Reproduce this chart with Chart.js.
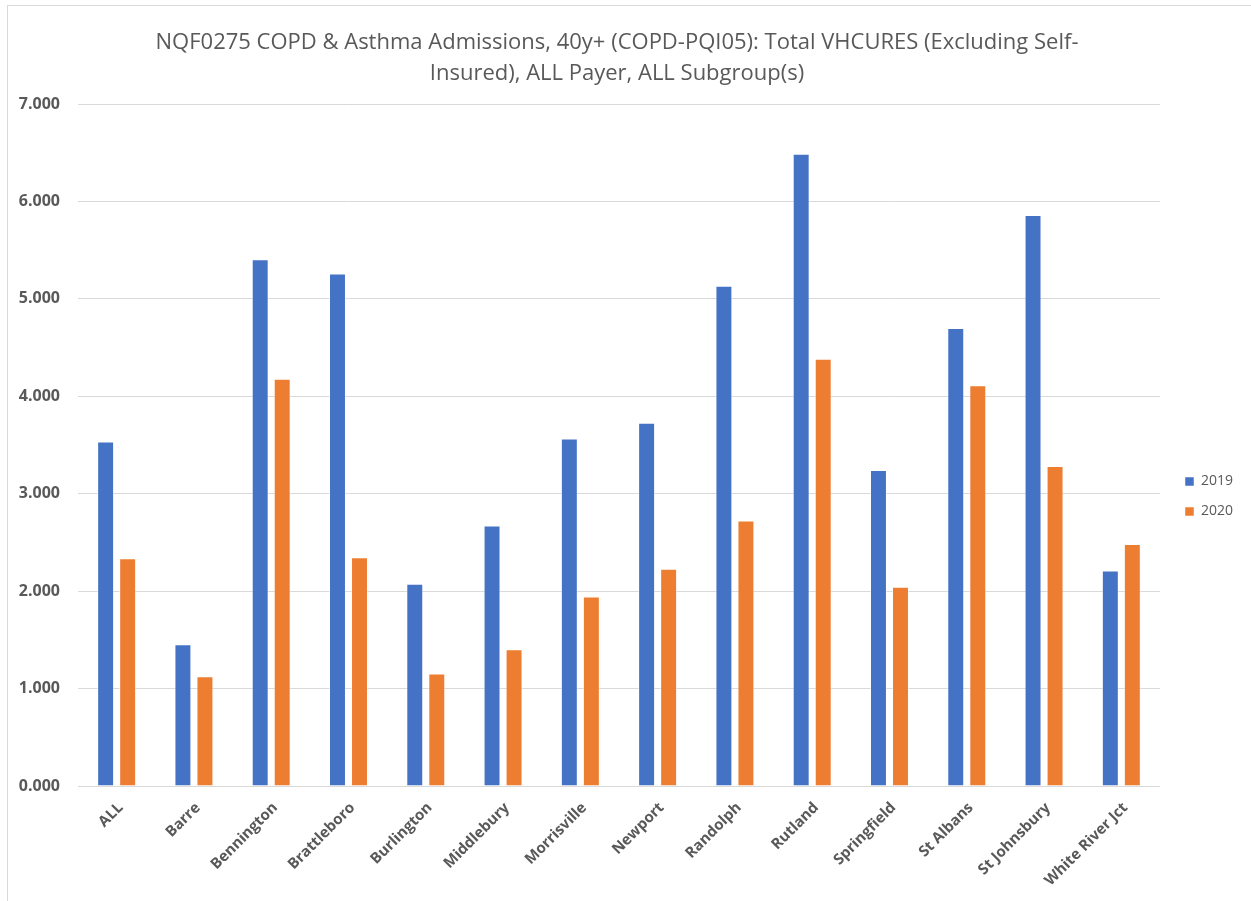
<!DOCTYPE html>
<html>
<head>
<meta charset="utf-8">
<script src="https://cdn.jsdelivr.net/npm/chart.js@4/dist/chart.umd.min.js"></script>
<style>
    html, body { margin: 0; padding: 0; background: #fff; overflow: hidden; }
    #frame {
        position: absolute; left: 7px; top: 5px;
        width: 1300px; height: 1000px;
        border: 1px solid #d9d9d9;
    }
    #wrap { position: absolute; left: 0; top: 0; width: 1251px; height: 901px; }
</style>
</head>
<body>
<div id="frame"></div>
<div id="wrap"><canvas id="copdChart"></canvas></div>
<script>
const titleLines = [
    'NQF0275 COPD & Asthma Admissions, 40y+ (COPD-PQI05): Total VHCURES (Excluding Self-',
    'Insured), ALL Payer, ALL Subgroup(s)'
];

const regions = [
    'ALL', 'Barre', 'Bennington', 'Brattleboro', 'Burlington', 'Middlebury', 'Morrisville',
    'Newport', 'Randolph', 'Rutland', 'Springfield', 'St Albans', 'St Johnsbury', 'White River Jct'
];

const rate2019 = [3.535, 1.455, 5.407, 5.26, 2.077, 2.674, 3.566, 3.729, 5.136, 6.489, 3.244, 4.701, 5.86, 2.213];
const rate2020 = [2.338, 1.126, 4.179, 2.348, 1.155, 1.403, 1.946, 2.231, 2.724, 4.385, 2.045, 4.113, 3.285, 2.484];

const yTicks = [0, 1, 2, 3, 4, 5, 6, 7];

const textColor = '#595959';
const gridColor = '#d9d9d9';

// nudge the legend to where the reference puts it
const legendNudge = {
    id: 'legendNudge',
    afterLayout(chart) {
        const lg = chart.legend;
        if (!lg) return;
        lg.left += 9; lg.right += 9;
        lg.top += 46; lg.bottom += 46;
    }
};

const ctx = document.getElementById('copdChart').getContext('2d');

new Chart(ctx, {
    type: 'bar',
    data: {
        labels: regions,
        datasets: [
            {
                label: '2019',
                data: rate2019,
                backgroundColor: '#4472C4',
                borderColor: 'rgba(255,255,255,0.5)',
                borderWidth: 1,
                categoryPercentage: 0.57,
                barPercentage: 0.77
            },
            {
                label: '2020',
                data: rate2020,
                backgroundColor: '#ED7D31',
                borderColor: 'rgba(255,255,255,0.5)',
                borderWidth: 1,
                categoryPercentage: 0.57,
                barPercentage: 0.77
            }
        ]
    },
    options: {
        responsive: true,
        maintainAspectRatio: false,
        animation: false,
        layout: {
            padding: { left: 0, right: 17, top: 0, bottom: 0 }
        },
        plugins: {
            title: {
                display: true,
                text: titleLines,
                color: textColor,
                font: { family: 'Open Sans', size: 22, weight: 'normal', lineHeight: 1.41 },
                padding: { top: 27, bottom: 15 }
            },
            legend: {
                display: true,
                position: 'right',
                labels: {
                    color: textColor,
                    font: { family: 'Open Sans', size: 14 },
                    boxWidth: 9,
                    boxHeight: 9,
                    padding: 16
                }
            },
            tooltip: { enabled: false }
        },
        scales: {
            y: {
                min: 0,
                max: 7,
                afterBuildTicks: (scale) => {
                    scale.ticks = yTicks.map(v => ({ value: v }));
                },
                afterFit: (scale) => { scale.width = 78; },
                ticks: {
                    color: textColor,
                    font: { family: 'Open Sans', size: 16, weight: 'bold' },
                    padding: 18,
                    callback: (value) => Number(value).toFixed(3)
                },
                grid: {
                    color: gridColor,
                    lineWidth: 1,
                    drawTicks: false
                },
                border: { display: false }
            },
            x: {
                afterFit: (scale) => { scale.height = 115; },
                ticks: {
                    color: textColor,
                    font: { family: 'Open Sans', size: 15, weight: 'bold' },
                    minRotation: 45,
                    maxRotation: 45,
                    padding: 13,
                    labelOffset: 4,
                    autoSkip: false
                },
                grid: {
                    display: false,
                    drawTicks: false
                },
                border: { display: true, color: gridColor, width: 1 }
            }
        }
    },
    plugins: [legendNudge]
});
</script>
</body>
</html>
